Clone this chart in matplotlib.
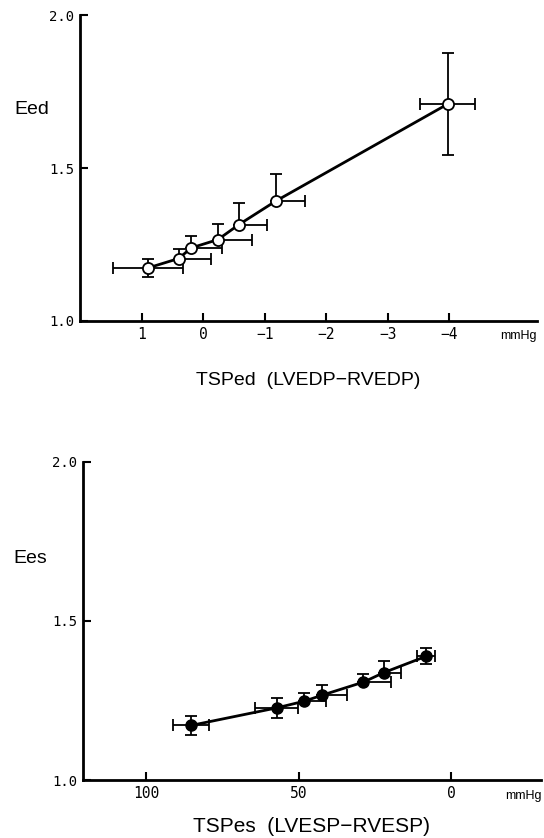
import matplotlib
matplotlib.use("Agg")
import matplotlib.pyplot as plt

plt.rcParams['font.family'] = ['Liberation Sans', 'DejaVu Sans']

# top panel: end-diastolic (middle points only show the upper half and the
# half towards more negative pressure, i.e. the visual right)
ed_x = [0.90, 0.40, 0.19, -0.24, -0.58, -1.18, -3.97]
ed_y = [1.173, 1.204, 1.239, 1.266, 1.315, 1.392, 1.709]
ed_xerr_lo = [0.57, 0.52, 0.50, 0.55, 0.46, 0.47, 0.45]
ed_xerr_hi = [0.57, 0, 0, 0, 0, 0, 0.45]
ed_yerr_lo = [0.03, 0, 0, 0, 0, 0, 0.166]
ed_yerr_hi = [0.03, 0.03, 0.04, 0.05, 0.07, 0.09, 0.166]
ed_xticks = [1, 0, -1, -2, -3, -4]
ed_xticklabels = ['1', '0', '\u22121', '\u22122', '\u22123', '\u22124']

# bottom panel: end-systolic
es_x = [85.2, 57.2, 48.2, 42.3, 28.8, 22.1, 8.3]
es_y = [1.172, 1.227, 1.248, 1.267, 1.308, 1.338, 1.389]
es_xerr_lo = [6.0, 7.0, 7.0, 8.0, 9.0, 5.6, 3.0]
es_xerr_hi = [6.0, 7.0, 0, 0, 0, 0, 3.0]
es_yerr_lo = [0.03, 0.032, 0, 0, 0, 0, 0.025]
es_yerr_hi = [0.03, 0.032, 0.027, 0.033, 0.027, 0.035, 0.025]
es_xticks = [100, 50, 0]

yticks = [1.0, 1.5, 2.0]
ylabels = ['1.0', '1.5', '2.0']

fig = plt.figure(figsize=(5.44, 8.38), dpi=100)
ax1 = fig.add_axes([0.147, 0.617, 0.840, 0.365])
ax2 = fig.add_axes([0.152, 0.069, 0.843, 0.380])


def style(ax):
    for s in ['top', 'right']:
        ax.spines[s].set_visible(False)
    for s in ['left', 'bottom']:
        ax.spines[s].set_linewidth(2)
    ax.set_ylim(1.0, 2.0)
    ax.set_yticks(yticks)
    ax.set_yticklabels(ylabels, family='DejaVu Sans Mono', fontsize=10)
    ax.tick_params(direction='in', width=1.5, length=6, pad=4)
    ax.tick_params(axis='x', labelsize=10.5)
    for lab in ax.get_xticklabels():
        lab.set_family('DejaVu Sans Mono')


ax1.errorbar(ed_x, ed_y, xerr=[ed_xerr_lo, ed_xerr_hi],
             yerr=[ed_yerr_lo, ed_yerr_hi], fmt='o-', color='black',
             mfc='white', mec='black', ms=8, mew=1.3, lw=2, elinewidth=1.3,
             capsize=4, capthick=1.3)
ax1.set_xlim(2.0, -5.42)
ax1.set_xticks(ed_xticks)
ax1.set_xticklabels(ed_xticklabels)
style(ax1)
ax1.text(1.0, -0.03, 'mmHg', transform=ax1.transAxes, ha='right', va='top', fontsize=9)
ax1.set_ylabel('Eed', rotation=0, fontsize=14, ha='center', va='center')
ax1.yaxis.set_label_coords(-0.105, 0.69)
ax1.set_xlabel('TSPed  (LVEDP\u2212RVEDP)', fontsize=14, labelpad=22)

ax2.errorbar(es_x, es_y, xerr=[es_xerr_lo, es_xerr_hi],
             yerr=[es_yerr_lo, es_yerr_hi], fmt='o-', color='black',
             ms=8, lw=2, elinewidth=1.3, capsize=4, capthick=1.3)
ax2.set_xlim(120.7, -29.4)
ax2.set_xticks(es_xticks)
style(ax2)
ax2.text(1.0, -0.03, 'mmHg', transform=ax2.transAxes, ha='right', va='top', fontsize=9)
ax2.set_ylabel('Ees', rotation=0, fontsize=14, ha='center', va='center')
ax2.yaxis.set_label_coords(-0.115, 0.697)
ax2.set_xlabel('TSPes  (LVESP\u2212RVESP)', fontsize=15, labelpad=12)

fig.savefig('out.png', dpi=100)
